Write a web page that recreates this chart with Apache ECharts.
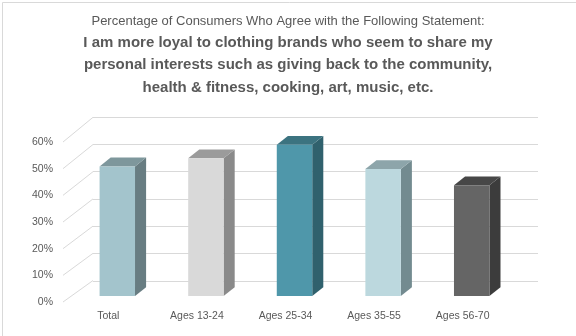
<!DOCTYPE html>
<html>
<head>
<meta charset="utf-8">
<script src="https://cdn.jsdelivr.net/npm/echarts@6/dist/echarts.min.js"></script>
<style>
  html, body { margin: 0; padding: 0; background: #fff; }
  #chart { width: 576px; height: 336px; }
</style>
</head>
<body>
<div id="chart"></div>
<script>
// Survey groups and the share agreeing with the statement (%)
const categories = ['Total', 'Ages 13-24', 'Ages 25-34', 'Ages 35-55', 'Ages 56-70'];
const agreeShare = [48, 51, 56, 47, 41];
const tickValues = [0, 10, 20, 30, 40, 50, 60];

// Face shades for each column: front, top, side
const frontColors = ['#a3c4cc', '#d9d9d9', '#4f97aa', '#bcd8de', '#656565'];
const topColors   = ['#7e979c', '#9b9b9b', '#3c7380', '#8da5aa', '#474747'];
const sideColors  = ['#687d82', '#8a8a8a', '#30616d', '#738b90', '#3c3c3c'];

const TEXT = '#595959';
const GRID_LINE = '#d9d9d9';
const FONT = 'Liberation Sans, Arial, sans-serif';

const SUBTITLE = 'Percentage of Consumers Who Agree with the Following Statement:';
const STATEMENT = 'I am more loyal to clothing brands who seem to share my\npersonal interests such as giving back to the community,\nhealth & fitness, cooking, art, music, etc.';

const chart = echarts.init(document.getElementById('chart'), null, { renderer: 'canvas' });

const hiddenCat = { type: 'category', data: categories, show: false };
const hiddenVal = { type: 'value', min: 0, max: 60, interval: 10, show: false };

// Bars drawn as boxes: front face, top face and right side face
function renderBox(params, api) {
  const i = api.value(0);
  const top = api.coord([i, api.value(1)]);
  const base = api.coord([i, 0]);
  const band = api.size([1, 0])[0];
  const hw = band * 0.2;
  const dx = band * 0.125;
  const dy = band * 0.1;
  const l = top[0] - hw, r = top[0] + hw, t = top[1], b = base[1];
  return {
    type: 'group',
    children: [
      { type: 'polygon', shape: { points: [[r, t], [r + dx, t - dy], [r + dx, b - dy], [r, b]] },
        style: { fill: sideColors[i] } },
      { type: 'polygon', shape: { points: [[l, t], [l + dx, t - dy], [r + dx, t - dy], [r, t]] },
        style: { fill: topColors[i] } },
      { type: 'rect', shape: { x: l, y: t, width: r - l, height: b - t },
        style: { fill: frontColors[i] } }
    ]
  };
}

// Side-wall gridlines running from the front edge back to the wall
function renderWallLine(params, api) {
  const v = api.value(1);
  const y = api.coord([0, v])[1];
  const x0 = params.coordSys.x;
  const depthY = 21.5 + 3.2 * v / 60;
  return {
    type: 'line',
    shape: { x1: x0 - 1, y1: y, x2: x0 + 29, y2: y - depthY },
    style: { stroke: GRID_LINE, lineWidth: 1 }
  };
}

chart.setOption({
  backgroundColor: '#ffffff',
  animation: false,
  textStyle: { fontFamily: FONT },
  graphic: [
    {
      type: 'rect', left: 0, top: 0, silent: true, z: -1,
      shape: { width: 575, height: 335 },
      style: { fill: 'none', stroke: '#d9d9d9', lineWidth: 1 }
    },
    {
      type: 'text', x: 288, y: 21, silent: true,
      style: {
        text: SUBTITLE, align: 'center', verticalAlign: 'middle',
        font: 'normal 13px ' + FONT, fill: TEXT
      }
    },
    {
      type: 'text', x: 288, y: 31, silent: true,
      style: {
        text: STATEMENT, align: 'center', verticalAlign: 'top',
        font: 'bold 15px ' + FONT, fill: TEXT, lineHeight: 22.8
      }
    }
  ],
  grid: [
    // back wall
    { left: 93, right: 38, top: 117, bottom: 55 },
    // front edge (axis labels)
    { left: 64, right: 69, top: 142, bottom: 34 },
    // plane of the columns
    { left: 73, right: 60, top: 134, bottom: 40 }
  ],
  xAxis: [
    Object.assign({ gridIndex: 0 }, hiddenCat),
    {
      gridIndex: 1, type: 'category', data: categories,
      axisLine: { show: false }, axisTick: { show: false },
      axisLabel: { color: TEXT, fontSize: 10.5, margin: 9, fontFamily: FONT }
    },
    Object.assign({ gridIndex: 2 }, hiddenCat)
  ],
  yAxis: [
    {
      gridIndex: 0, type: 'value', min: 0, max: 60, interval: 10,
      axisLine: { show: false }, axisTick: { show: false }, axisLabel: { show: false },
      splitLine: { show: true, lineStyle: { color: GRID_LINE, width: 1 } }
    },
    {
      gridIndex: 1, type: 'value', min: 0, max: 60, interval: 10,
      axisLine: { show: false }, axisTick: { show: false }, splitLine: { show: false },
      axisLabel: { color: TEXT, fontSize: 10.5, margin: 11, fontFamily: FONT, formatter: '{value}%' }
    },
    Object.assign({ gridIndex: 2 }, hiddenVal)
  ],
  series: [
    {
      type: 'custom', xAxisIndex: 1, yAxisIndex: 1, silent: true,
      renderItem: renderWallLine,
      data: tickValues.map(v => [0, v]),
      encode: { x: 0, y: 1 }
    },
    {
      type: 'custom', xAxisIndex: 2, yAxisIndex: 2, silent: true, z: 3,
      renderItem: renderBox,
      data: agreeShare.map((v, i) => [i, v]),
      encode: { x: 0, y: 1 }
    }
  ]
});
</script>
</body>
</html>
